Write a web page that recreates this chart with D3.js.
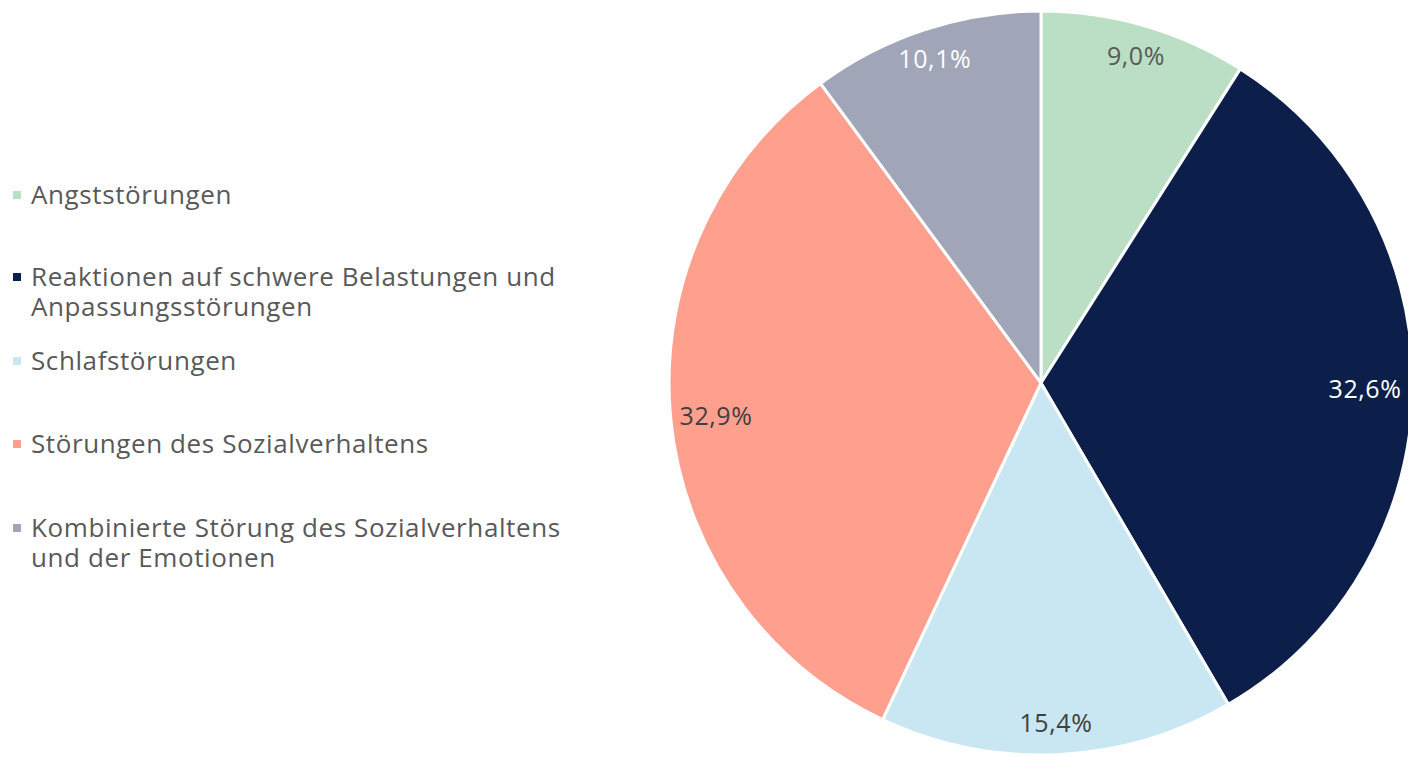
<!DOCTYPE html>
<html>
<head>
<meta charset="utf-8">
<script src="https://cdn.jsdelivr.net/npm/d3@7"></script>
<style>
  body { margin: 0; background: #fff; }
  svg { display: block; font-family: "Open Sans", sans-serif; letter-spacing: 0.6px; }
</style>
</head>
<body>
<div class="canva"></div>
<script>
const categories = [
  ["Angststörungen"],
  ["Reaktionen auf schwere Belastungen und", "Anpassungsstörungen"],
  ["Schlafstörungen"],
  ["Störungen des Sozialverhaltens"],
  ["Kombinierte Störung des Sozialverhaltens", "und der Emotionen"]
];
const values = [9.0, 32.6, 15.4, 32.9, 10.1];
const labels = ["9,0%", "32,6%", "15,4%", "32,9%", "10,1%"];
const colors = ["#badfc5", "#0c1f4a", "#c9e6f3", "#ffa08f", "#a0a5b7"];
const labelColors = ["#595959", "#ffffff", "#404040", "#404040", "#ffffff"];
const legendY = [195, 277, 361, 444, 528];

var width = 1408, height = 757;
var cx = 1041, cy = 383, radius = 372;

const svg = d3.select(".canva").append("svg")
    .attr("width", width)
    .attr("height", height);

const data = values.map((v, i) => ({ i, v }));

const pie = d3.pie().sort(null).value(d => d.v);
const arc = d3.arc().innerRadius(0).outerRadius(radius);
const labelArc = d3.arc().innerRadius(radius * 0.915).outerRadius(radius * 0.915);

const g = svg.append("g").attr("transform", `translate(${cx},${cy})`);

g.selectAll("path")
  .data(pie(data))
  .join("path")
    .attr("d", arc)
    .attr("fill", d => colors[d.data.i])
    .attr("stroke", "#fff")
    .attr("stroke-width", 3);

// keep labels inside the pie horizontally
g.selectAll("text")
  .data(pie(data))
  .join("text")
    .attr("transform", d => {
      const [x, y] = labelArc.centroid(d);
      return `translate(${Math.max(-325, Math.min(x, 324))},${y})`;
    })
    .attr("text-anchor", "middle")
    .attr("dy", "0.35em")
    .attr("font-size", 25)
    .attr("fill", d => labelColors[d.data.i])
    .text(d => labels[d.data.i]);

// legend
const leg = svg.append("g");
const item = leg.selectAll("g")
  .data(categories)
  .join("g")
    .attr("transform", (d, i) => `translate(0,${legendY[i]})`);

item.append("rect")
    .attr("x", 13)
    .attr("y", -4)
    .attr("width", 8)
    .attr("height", 8)
    .attr("fill", (d, i) => colors[i]);

item.append("text")
    .attr("x", 31)
    .attr("font-size", 26)
    .attr("fill", "#595959")
    .selectAll("tspan")
    .data(d => d)
    .join("tspan")
      .attr("x", 31)
      .attr("y", (d, j) => j * 30)
      .attr("dy", "0.35em")
      .text(d => d);
</script>
</body>
</html>
